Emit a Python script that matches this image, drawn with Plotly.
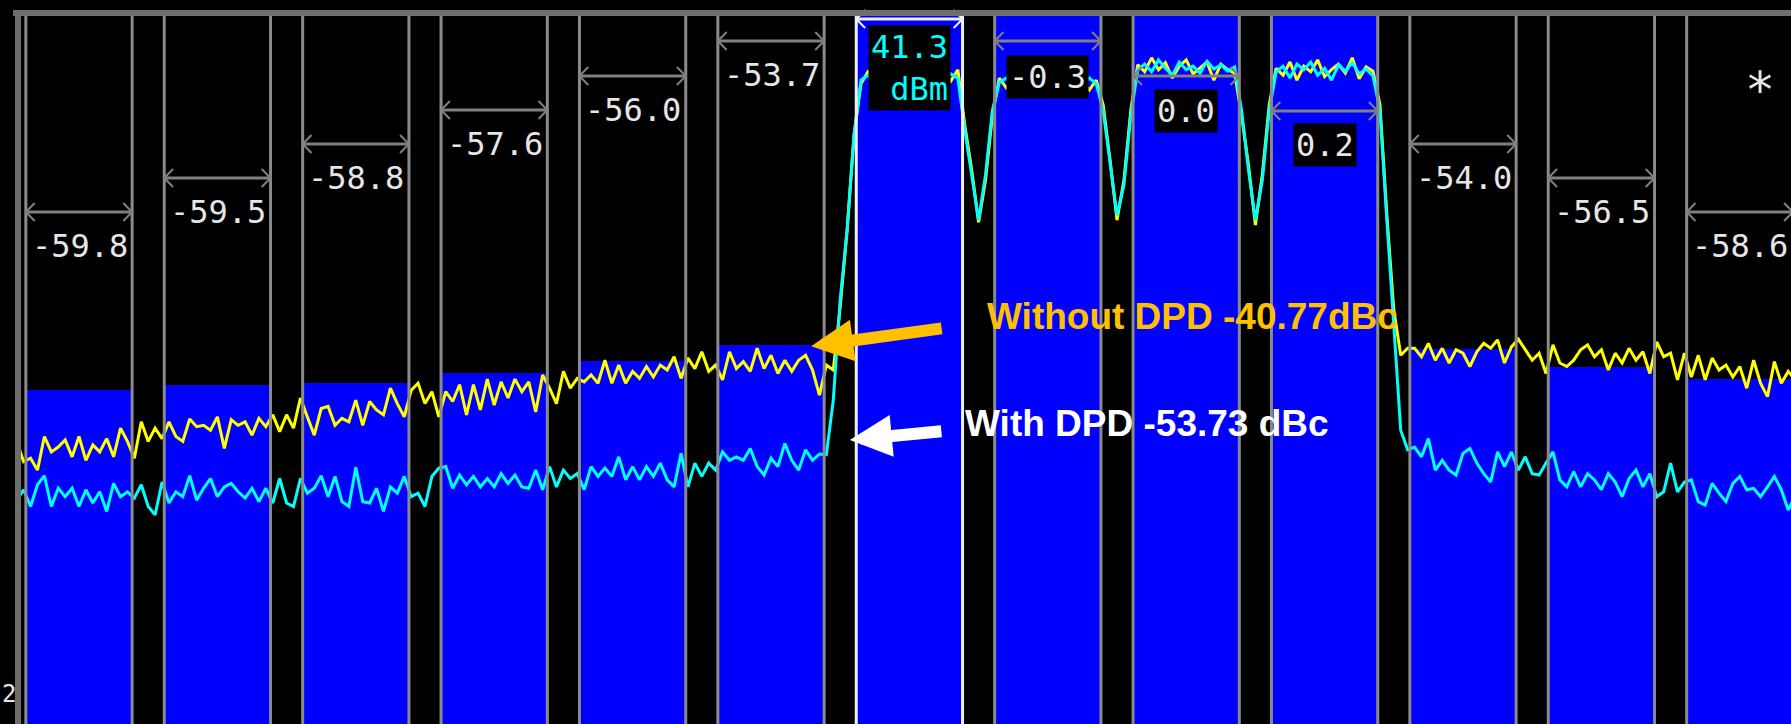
import plotly.graph_objects as go

# ------------------------------------------------------------------ data
# sweep grid (MHz, relative to the centre of the 4-carrier block)
f_start_mhz = -39.75
f_step_mhz = 0.25

without_dpd_dbm = [
    -31.2, -34.1, -33.6, -35.3, -30.5, -32.7, -32.0, -31.0, -33.4, -30.5,
    -33.9, -31.7, -32.7, -30.8, -33.4, -29.3, -31.2, -33.6, -28.4, -31.2,
    -29.3, -30.8, -28.4, -30.5, -31.2, -28.0, -29.1, -28.9, -29.6, -27.7,
    -32.2, -28.1, -28.9, -28.4, -30.3, -27.9, -29.1, -27.4, -29.8, -27.4,
    -29.3, -25.0, -27.7, -30.3, -26.5, -26.2, -28.9, -27.9, -28.4, -25.3,
    -28.9, -25.5, -26.7, -27.4, -23.6, -25.8, -27.7, -23.9, -22.9, -25.8,
    -24.1, -27.7, -24.1, -25.5, -23.1, -27.4, -23.1, -26.7, -22.3, -26.0,
    -22.7, -25.0, -22.3, -24.1, -22.7, -27.0, -21.7, -23.6, -25.8, -21.2,
    -23.6, -22.2, -22.7, -21.7, -22.9, -19.6, -22.9, -20.3, -22.9, -21.2,
    -22.2, -20.5, -22.0, -20.3, -21.0, -19.1, -22.2, -19.3, -20.8, -18.4,
    -21.2, -20.3, -22.4, -18.4, -20.8, -19.8, -21.2, -17.9, -20.8, -18.9,
    -21.5, -19.6, -21.2, -19.6, -18.9, -21.0, -24.6,
    -20.3, -21.0, -12.0, -1.0, 12.6,
    19.9, 21.6, 20.4, 21.0, 20.7, 21.9, 21.1, 20.1, 21.7, 20.6, 21.3, 20.9, 21.4, 20.3, 21.9,
    14.0, 7.6, 0.1, 6.1, 15.4,
    20.7, 19.3, 20.4, 21.3, 20.0, 20.9, 21.6, 20.4, 19.7, 21.0, 20.6, 21.4, 20.1, 19.0, 20.4,
    16.9, 9.0, 0.4, 6.1, 16.1,
    22.6, 21.6, 23.6, 21.9, 22.9, 20.7, 22.4, 23.3, 21.3, 22.1, 23.0, 20.4, 22.7, 21.9, 21.4,
    15.4, 8.3, -0.3, 6.9, 16.9,
    22.1, 21.1, 23.0, 20.4, 22.4, 21.6, 23.3, 20.9, 21.9, 22.7, 21.4, 23.6, 20.6, 22.3, 21.7,
    16.9, 1.1, -12.4, -18.9, -17.9,
    -17.9, -19.1, -17.2, -19.6, -17.9, -20.0, -18.1, -18.6, -20.5, -18.4,
    -17.2, -17.9, -16.7, -20.0, -17.7, -16.6, -18.1, -19.6, -18.6, -21.5,
    -17.4, -20.0, -20.5, -19.6, -18.1, -17.4, -19.1, -18.1, -21.0, -18.6,
    -20.0, -17.9, -19.6, -18.4, -21.5, -17.0, -19.1, -18.6, -22.4, -18.6,
    -22.0, -18.9, -22.4, -19.3, -21.0, -20.3, -22.0, -20.5, -23.6, -19.6,
    -22.9, -24.8, -19.8, -22.9, -21.2, -22.4,
]

with_dpd_dbm = [
    -39.6, -38.1, -40.5, -37.4, -36.1, -40.5, -37.9, -39.1, -37.9, -40.5,
    -38.1, -40.0, -38.4, -41.2, -37.2, -39.1, -38.4, -39.3, -37.4, -40.5,
    -41.7, -37.0, -40.0, -38.4, -39.1, -36.1, -39.6, -37.9, -36.5, -39.1,
    -37.7, -37.2, -38.4, -39.3, -37.9, -39.8, -37.9, -40.0, -36.5, -40.0,
    -40.5, -36.5, -38.6, -37.9, -36.1, -39.1, -36.2, -39.8, -40.5, -34.9,
    -39.8, -40.0, -37.9, -41.2, -37.7, -38.6, -36.2, -39.1, -38.6, -40.5,
    -36.2, -35.0, -34.8, -37.9, -36.0, -37.4, -36.2, -37.7, -36.5, -37.7,
    -35.8, -37.2, -36.0, -37.7, -37.9, -35.3, -38.1, -34.8, -37.7, -35.3,
    -36.5, -35.8, -38.1, -34.8, -36.2, -35.0, -36.2, -33.4, -36.7, -34.8,
    -36.7, -34.8, -36.2, -34.3, -36.7, -37.7, -32.9, -37.7, -34.3, -36.2,
    -34.3, -35.3, -32.7, -33.9, -33.4, -33.9, -32.2, -34.8, -36.0, -33.6,
    -34.8, -31.5, -33.9, -35.3, -32.4, -33.9, -33.0,
    -33.1, -25.3, -11.0, -1.0, 12.6,
    20.4, 21.1, 20.7, 21.6, 20.1, 21.0, 21.9, 20.6, 21.3, 20.0, 20.9, 21.6, 20.4, 21.3, 20.7,
    13.3, 6.9, 0.4, 6.9, 16.1,
    20.1, 20.7, 19.7, 21.0, 20.4, 21.3, 20.6, 20.0, 20.9, 20.3, 21.1, 20.4, 19.6, 20.7, 19.9,
    16.1, 8.3, 1.1, 5.4, 15.4,
    21.9, 22.7, 21.6, 23.3, 22.1, 21.1, 23.0, 21.9, 22.4, 21.4, 23.1, 22.0, 22.6, 21.7, 22.3,
    16.1, 7.6, 0.4, 6.1, 16.1,
    21.6, 22.4, 20.7, 22.7, 21.9, 23.0, 21.1, 22.1, 20.4, 22.6, 21.7, 22.9, 21.3, 22.0, 21.0,
    16.1, 0.4, -13.9, -29.6, -32.4,
    -32.0, -33.4, -30.8, -35.3, -33.9, -35.3, -36.0, -32.9, -32.2, -34.3,
    -35.8, -37.0, -32.7, -34.8, -32.7, -35.3, -33.4, -35.8, -36.0, -34.3,
    -32.7, -36.7, -37.7, -35.5, -37.7, -35.8, -36.7, -38.1, -35.8, -37.0,
    -39.1, -36.5, -35.3, -37.7, -35.8, -39.1, -38.4, -34.3, -38.4, -37.0,
    -36.7, -39.8, -40.3, -37.2, -38.6, -39.8, -37.2, -36.2, -38.1, -37.9,
    -39.1, -37.7, -36.2, -38.1, -41.0, -39.0,
]

# channels (6 lower adjacent, 4 carriers, 3 upper adjacent)
channel_center_mhz = [-37.5, -32.5, -27.5, -22.5, -17.5, -12.5,
                      -7.5, -2.5, 2.5, 7.5,
                      12.5, 17.5, 22.5]
channel_bw_mhz = 3.84
channel_bar_dbm = [-23.8, -23.2, -22.9, -21.4, -19.7, -17.4,
                   30.0, 30.0, 30.0, 30.0,
                   -18.0, -20.5, -22.3]
channel_result = ["-59.8", "-59.5", "-58.8", "-57.6", "-56.0", "-53.7",
                  "41.3<br>\u00a0dBm", "-0.3", "0.0", "0.2",
                  "-54.0", "-56.5", "-58.6"]
ref_channel = 6

note_without = "<b>Without DPD -40.77dBc</b>"
note_with = "<b>With DPD -53.73 dBc</b>"

# ------------------------------------------------------------------ layout constants
W, H = 1791, 724
x_range = [-40.354, 24.35]
y_range = [-71.57, 31.857]
label_row_px = [212, 178, 144, 110, 76, 41, 19, 41, 76, 111, 144, 178, 212]
label_text_dy_px = [34, 34, 34, 34, 34, 34, 49, 36, 35, 34, 34, 34, 34]
bar_base = -80.0


def py(px):
    return 1 - px / H


freqs = [f_start_mhz + f_step_mhz * i for i in range(len(without_dpd_dbm))]

fig = go.Figure()
fig.add_trace(go.Bar(
    x=channel_center_mhz,
    y=[v - bar_base for v in channel_bar_dbm],
    base=bar_base,
    width=channel_bw_mhz,
    marker=dict(color="#0000ff", line=dict(width=0)),
    hoverinfo="skip",
))
fig.add_trace(go.Scatter(
    x=freqs, y=without_dpd_dbm, mode="lines",
    line=dict(color="#ffff00", width=3), hoverinfo="skip",
))
fig.add_trace(go.Scatter(
    x=freqs, y=with_dpd_dbm, mode="lines",
    line=dict(color="#00ffff", width=3), hoverinfo="skip",
))

shapes = []
annotations = []
half = channel_bw_mhz / 2
for k, c in enumerate(channel_center_mhz):
    is_ref = (k == ref_channel)
    carrier = 6 <= k <= 9
    edge_col = "#f0f0f0" if is_ref else "#8a8a8a"
    for e in (c - half, c + half):
        shapes.append(dict(type="line", xref="x", yref="paper",
                           x0=e, x1=e, y0=0, y1=py(16),
                           line=dict(color=edge_col, width=3), layer="above"))
    # measurement span arrow
    arr_col = "#f0f0f0" if is_ref else "#808080"
    yv = py(label_row_px[k])
    x0, x1 = c - half, c + half
    shapes.append(dict(type="line", xref="x", yref="paper",
                       x0=x0, x1=x1, y0=yv, y1=yv,
                       line=dict(color=arr_col, width=3), layer="above"))
    dx, dy = 0.32, 9 / H
    shapes.append(dict(type="path", xref="x", yref="paper",
                       path=f"M {x0 + dx},{yv + dy} L {x0},{yv} L {x0 + dx},{yv - dy}",
                       line=dict(color=arr_col, width=2), layer="above"))
    shapes.append(dict(type="path", xref="x", yref="paper",
                       path=f"M {x1 - dx},{yv + dy} L {x1},{yv} L {x1 - dx},{yv - dy}",
                       line=dict(color=arr_col, width=2), layer="above"))
    # result text
    if carrier:
        ann = dict(x=c, xanchor="center")
    else:
        ann = dict(x=x0 + 0.1, xanchor="left")
    ann.update(
        xref="x", y=py(label_row_px[k] + label_text_dy_px[k]), yref="paper",
        text=channel_result[k], showarrow=False, yanchor="middle", align="left",
        font=dict(family="DejaVu Sans Mono", size=32,
                  color="#00ffff" if is_ref else "#e6e6e6"),
        bgcolor="#000000" if carrier else None, borderpad=2,
    )
    annotations.append(ann)

# screen frame (top and left edges)
shapes.append(dict(type="rect", xref="paper", yref="paper",
                   x0=13 / W, x1=1, y0=py(16), y1=py(10),
                   fillcolor="#6e6e6e", line=dict(width=0), layer="above"))
shapes.append(dict(type="rect", xref="paper", yref="paper",
                   x0=15 / W, x1=21 / W, y0=0, y1=py(10),
                   fillcolor="#6e6e6e", line=dict(width=0), layer="above"))

# annotation texts and arrows
annotations += [
    dict(x=985 / W, y=py(316), xref="paper", yref="paper", text=note_without,
         showarrow=False, xanchor="left", yanchor="middle",
         font=dict(family="Liberation Sans, Arial", size=37, color="#ffc000")),
    dict(x=963 / W, y=py(423), xref="paper", yref="paper", text=note_with,
         showarrow=False, xanchor="left", yanchor="middle",
         font=dict(family="Liberation Sans, Arial", size=37, color="#ffffff")),
    dict(x=-11.05, y=-17.6, xref="x", yref="y", text="", showarrow=True,
         ax=132, ay=-18, arrowhead=2, arrowsize=0.7, arrowwidth=12,
         arrowcolor="#ffc000"),
    dict(x=-9.65, y=-31.0, xref="x", yref="y", text="", showarrow=True,
         ax=93, ay=-9, arrowhead=2, arrowsize=0.7, arrowwidth=12,
         arrowcolor="#ffffff"),
    dict(x=1760 / W, y=py(90), xref="paper", yref="paper", text="*",
         showarrow=False, xanchor="center", yanchor="middle",
         font=dict(family="DejaVu Sans Mono", size=50, color="#e6e6e6")),
    dict(x=0, y=py(694), xref="paper", yref="paper", text="2",
         showarrow=False, xanchor="left", yanchor="middle",
         font=dict(family="DejaVu Sans Mono", size=24, color="#e6e6e6")),
]

fig.update_layout(
    width=W, height=H, autosize=False,
    margin=dict(l=0, r=0, t=0, b=0, pad=0),
    paper_bgcolor="#000000", plot_bgcolor="#000000",
    showlegend=False,
    xaxis=dict(range=x_range, visible=False, fixedrange=True),
    yaxis=dict(range=y_range, visible=False, fixedrange=True),
    shapes=shapes, annotations=annotations,
    bargap=0,
)

fig.write_html(
    "out.html",
    config={"displayModeBar": False},
    post_script="document.body.style.margin='0';document.body.style.overflow='hidden';",
)
